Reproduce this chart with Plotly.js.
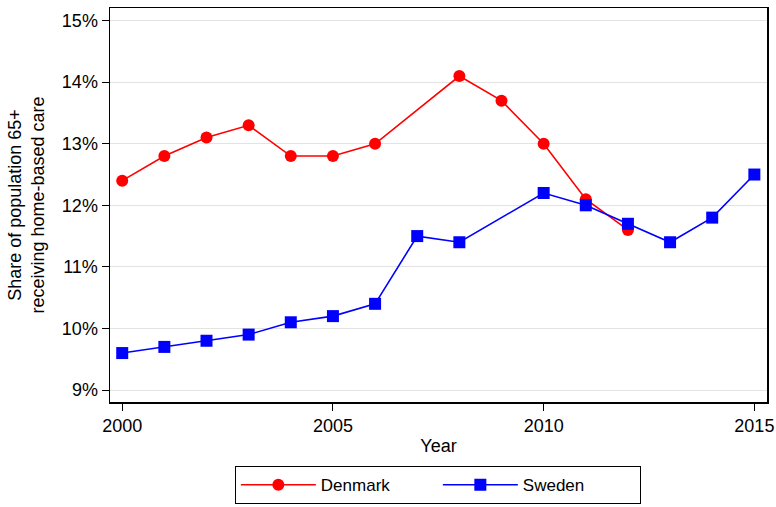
<!DOCTYPE html>
<html>
<head>
<meta charset="utf-8">
<script src="https://cdn.plot.ly/plotly-3.0.1.min.js"></script>
<style>html,body{margin:0;padding:0;background:#fff;}#chart{width:776px;height:507px;}</style>
</head>
<body>
<div id="chart"></div>
<script>
const years = [2000,2001,2002,2003,2004,2005,2006,2007,2008,2009,2010,2011,2012,2013,2014,2015];
const denmark = [12.4,12.8,13.1,13.3,12.8,12.8,13.0,null,14.1,13.7,13.0,12.1,11.6,null,null,null];
const sweden = [9.6,9.7,9.8,9.9,10.1,10.2,10.4,11.5,11.4,null,12.2,12.0,11.7,11.4,11.8,12.5];
const yTickVals = [9,10,11,12,13,14,15];
const yTickText = ['9%','10%','11%','12%','13%','14%','15%'];
const xTickVals = [2000,2005,2010,2015];

const FONT = 'Liberation Sans, Arial, Helvetica, sans-serif';

const traces = [
  {x: years, y: denmark, name: 'Denmark', type: 'scatter', mode: 'lines+markers', connectgaps: true,
   line: {color: '#ff0000', width: 1.6}, marker: {color: '#ff0000', size: 12, symbol: 'circle'}},
  {x: years, y: sweden, name: 'Sweden', type: 'scatter', mode: 'lines+markers', connectgaps: true,
   line: {color: '#0000ff', width: 1.6}, marker: {color: '#0000ff', size: 12, symbol: 'square'}}
];

const layout = {
  width: 776, height: 507,
  margin: {l: 110, r: 9, t: 8, b: 105, autoexpand: false},
  paper_bgcolor: '#fff', plot_bgcolor: '#fff',
  font: {family: FONT, size: 18, color: '#000'},
  showlegend: true,
  xaxis: {
    range: [1999.71, 2015.3], tickvals: xTickVals, ticks: 'outside', ticklen: 7, tickcolor: '#000',
    showgrid: false, zeroline: false, showline: true, linecolor: '#000', linewidth: 1.5, mirror: true,
    tickfont: {size: 18}, title: {text: 'Year', font: {size: 18}, standoff: 4}
  },
  yaxis: {
    range: [8.805, 15.205], tickvals: yTickVals, ticktext: yTickText, ticks: 'outside', ticklen: 7, tickcolor: '#000',
    showgrid: true, gridcolor: '#e3e3e3', gridwidth: 1, zeroline: false, showline: true, linecolor: '#000', linewidth: 1.5, mirror: true,
    tickfont: {size: 18},
    title: {text: 'Share of population 65+<br>receiving home-based care', font: {size: 18}, standoff: 12}
  },
  legend: {
    orientation: 'h', x: 0.499, xanchor: 'center', y: -0.163, yanchor: 'top',
    bordercolor: '#000', borderwidth: 1, bgcolor: '#fff', itemwidth: 75,
    font: {size: 17}, entrywidth: 112, entrywidthmode: 'pixels', itemclick: false
  }
};

Plotly.newPlot('chart', traces, layout, {displayModeBar: false, staticPlot: true});
</script>
</body>
</html>
